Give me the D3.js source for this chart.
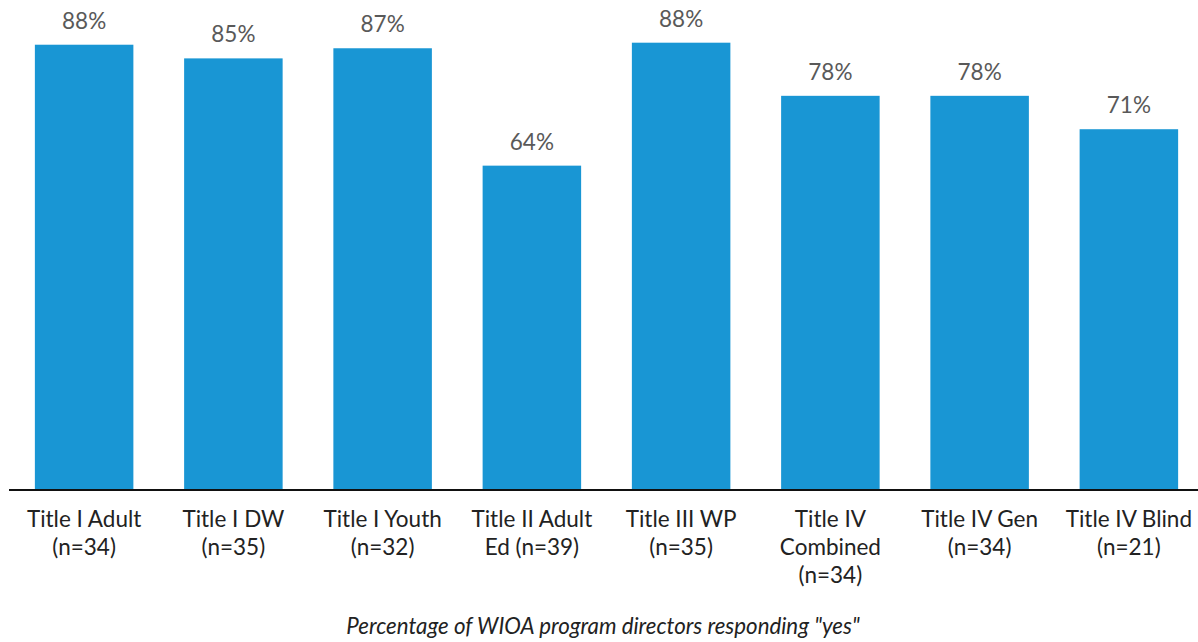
<!DOCTYPE html>
<html lang="en">
<head>
  <meta charset="UTF-8">
  <title>WIOA program directors</title>
  <style>
    body { margin: 0; background: #fff; }
    .chart text { font-family: Lato, "Open Sans", sans-serif; }
    .value { fill: #595959; font-size: 22.5px; text-anchor: middle; }
    .cat { fill: #222; font-size: 22.5px; text-anchor: middle; }
    .note { fill: #222; font-size: 22.3px; font-style: italic; text-anchor: middle; }
  </style>
</head>
<body>
  <svg class="chart"></svg>
  <script src="https://cdn.jsdelivr.net/npm/d3@7"></script>
  <script>
    var programs = ["Title I Adult", "Title I DW", "Title I Youth", "Title II Adult Ed",
                    "Title III WP", "Title IV Combined", "Title IV Gen", "Title IV Blind"];
    var labelLines = [
      ["Title I Adult", "(n=34)"],
      ["Title I DW", "(n=35)"],
      ["Title I Youth", "(n=32)"],
      ["Title II Adult", "Ed (n=39)"],
      ["Title III WP", "(n=35)"],
      ["Title IV", "Combined", "(n=34)"],
      ["Title IV Gen", "(n=34)"],
      ["Title IV Blind", "(n=21)"]
    ];
    var percentYes = [88.0, 85.3, 87.3, 64.1, 88.4, 77.9, 77.9, 71.3];
    var caption = "Percentage of WIOA program directors responding \"yes\"";

    var width = 1198, height = 642;
    var baseline = 490;

    var svg = d3.select(".chart")
      .attr("width", width)
      .attr("height", height);

    var x = d3.scaleBand()
      .domain(programs)
      .range([9.5, 1203.5])
      .paddingInner(0.34)
      .paddingOuter(0.17);

    var y = d3.scaleLinear()
      .domain([0, 100])
      .range([baseline, baseline - 506]);

    svg.selectAll("rect.bar")
      .data(percentYes)
      .enter().append("rect")
      .attr("class", "bar")
      .attr("x", function(d, i) { return x(programs[i]); })
      .attr("y", function(d) { return y(d); })
      .attr("width", x.bandwidth())
      .attr("height", function(d) { return baseline - y(d); })
      .attr("fill", "#1996d4");

    svg.selectAll("text.value")
      .data(percentYes)
      .enter().append("text")
      .attr("class", "value")
      .attr("x", function(d, i) { return x(programs[i]) + x.bandwidth() / 2; })
      .attr("y", function(d) { return y(d) - 16; })
      .text(function(d) { return Math.round(d) + "%"; });

    // baseline axis
    svg.append("line")
      .attr("x1", 9).attr("x2", width)
      .attr("y1", baseline).attr("y2", baseline)
      .attr("stroke", "#111")
      .attr("stroke-width", 2);

    var cats = svg.selectAll("text.cat")
      .data(labelLines)
      .enter().append("text")
      .attr("class", "cat")
      .attr("transform", function(d, i) {
        return "translate(" + (x(programs[i]) + x.bandwidth() / 2) + ",527)";
      });

    cats.selectAll("tspan")
      .data(function(d) { return d; })
      .enter().append("tspan")
      .attr("x", 0)
      .attr("y", function(d, i) { return i * 28; })
      .text(function(d) { return d; });

    svg.append("text")
      .attr("class", "note")
      .attr("x", 603)
      .attr("y", 634)
      .text(caption);
  </script>
</body>
</html>
